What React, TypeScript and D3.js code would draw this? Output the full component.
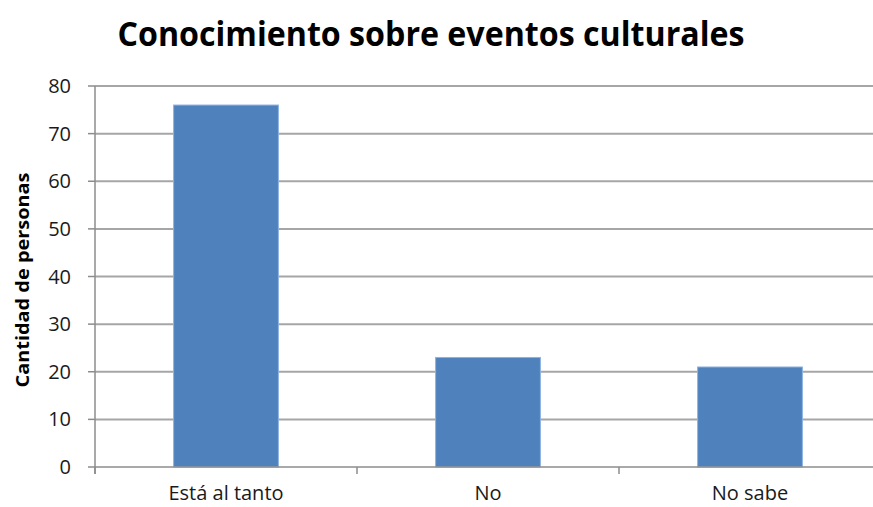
import React from "react";
import * as d3 from "d3";

const title = "Conocimiento sobre eventos culturales";
const yAxisTitle = "Cantidad de personas";
const categories = ["Está al tanto", "No", "No sabe"];
const values = [76, 23, 21];
const yTicks = [0, 10, 20, 30, 40, 50, 60, 70, 80];

const W = 873;
const H = 507;
const FONT = "'Open Sans', 'Noto Sans', sans-serif";

export default function App() {
  const left = 95;
  const right = 881;
  const top = 86;
  const bottom = 467;

  const x = d3.scaleBand<string>().domain(categories).range([left, right]).paddingInner(0).paddingOuter(0);
  const y = d3.scaleLinear().domain([0, 80]).range([bottom, top]);
  const barW = x.bandwidth() * 0.4;
  const boundaries = [left, ...categories.map((c) => (x(c) as number) + x.bandwidth())];

  return (
    <svg width={W} height={H} style={{ position: "absolute", left: 0, top: 0, background: "#fff" }}>
      <rect x={0} y={0} width={W} height={H} fill="#fff" />
      <text x={431} y={46} textAnchor="middle" fontFamily={FONT} fontWeight={700} fontSize={34} fill="#000"
        textLength={627} lengthAdjust="spacingAndGlyphs">{title}</text>
      {yTicks.map((t) => (
        <g key={t}>
          {t > 0 && <line x1={left} x2={W} y1={y(t)} y2={y(t)} stroke="#a6a6a6" strokeWidth={2} />}
          <line x1={88} x2={left} y1={y(t)} y2={y(t)} stroke="#8c8c8c" strokeWidth={1.5} />
          <text x={71} y={y(t) + 7} textAnchor="end" fontFamily={FONT} fontSize={20} fill="#1a1a1a">{t}</text>
        </g>
      ))}
      {categories.map((c, i) => {
        const cx = (x(c) as number) + x.bandwidth() / 2;
        return (
          <g key={c}>
            <rect x={cx - barW / 2} y={y(values[i])} width={barW} height={bottom - y(values[i])}
              fill="#4f81bd" stroke="#8db3e2" strokeWidth={1} />
            <text x={cx} y={500} textAnchor="middle" fontFamily={FONT} fontSize={20} fill="#1a1a1a">{c}</text>
          </g>
        );
      })}
      <line x1={left} x2={left} y1={top} y2={bottom + 7} stroke="#8c8c8c" strokeWidth={1.5} />
      <line x1={left} x2={W} y1={bottom} y2={bottom} stroke="#8c8c8c" strokeWidth={1.5} />
      {boundaries.map((b, i) => (
        <line key={i} x1={b} x2={b} y1={bottom} y2={bottom + 7} stroke="#8c8c8c" strokeWidth={1.5} />
      ))}
      <text transform={`translate(29, 280) rotate(-90)`} textAnchor="middle" fontFamily={FONT} fontWeight={700}
        fontSize={18} fill="#000" textLength={215} lengthAdjust="spacingAndGlyphs">{yAxisTitle}</text>
    </svg>
  );
}
